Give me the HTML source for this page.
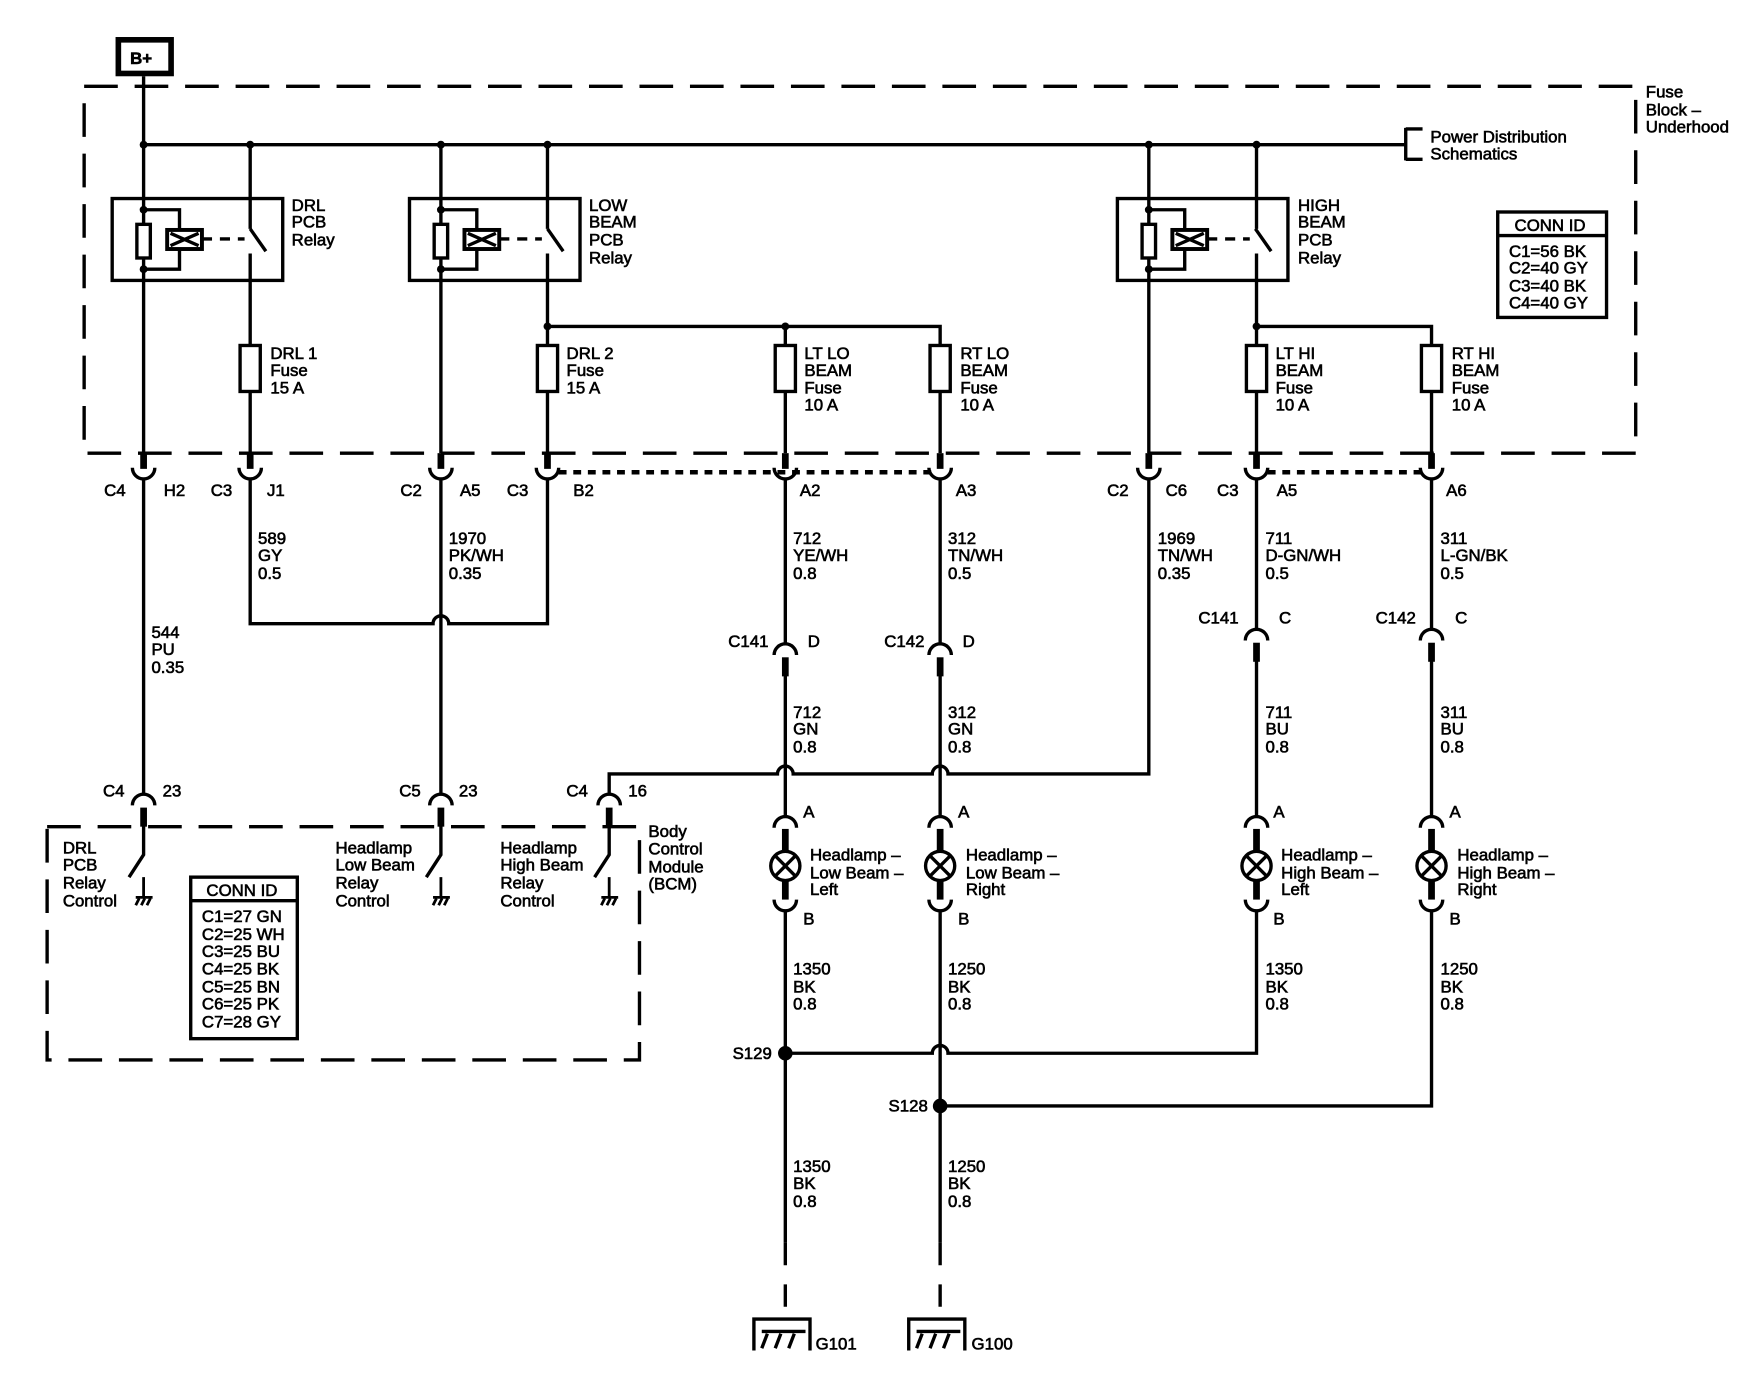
<!DOCTYPE html>
<html><head><meta charset="utf-8"><style>
html,body{margin:0;padding:0;background:#fff;}
svg{display:block;}
text{font-family:"Liberation Sans",Arial,sans-serif;font-size:15px;fill:#000;stroke:#000;stroke-width:0.55;}
</style></head><body>
<svg width="1758" height="1392" viewBox="0 0 1567 1241" preserveAspectRatio="none" xmlns="http://www.w3.org/2000/svg">
<defs>
<g id="cd"><rect x="-3" y="0" width="6" height="14" fill="#000"/><path d="M-10,13 A10,10 0 0 0 10,13" fill="none" stroke="#000" stroke-width="3"/></g>
<g id="cu"><path d="M-10,10 A10,10 0 0 1 10,10" fill="none" stroke="#000" stroke-width="3"/><rect x="-3" y="12" width="6" height="17" fill="#000"/></g>
<g id="lamp"><path d="M-10,10 A10,10 0 0 1 10,10" fill="none" stroke="#000" stroke-width="3"/><rect x="-3" y="11" width="6" height="22" fill="#000"/><circle cx="0" cy="44" r="13" fill="#fff" stroke="#000" stroke-width="3"/><path d="M-9,35 L9,53 M9,35 L-9,53" stroke="#000" stroke-width="3"/><rect x="-3" y="56" width="6" height="18" fill="#000"/><path d="M-10,74 A10,10 0 0 0 10,74" fill="none" stroke="#000" stroke-width="3"/></g>
<g id="relay"><rect x="-28" y="0" width="152" height="73" fill="none" stroke="#000" stroke-width="3"/><path d="M0,10 H32 V63 H0" fill="none" stroke="#000" stroke-width="3"/><rect x="-6" y="23" width="12" height="30" fill="#fff" stroke="#000" stroke-width="3"/><circle cx="0" cy="10" r="3.5"/><circle cx="0" cy="63" r="3.5"/><rect x="21" y="28" width="31" height="17" fill="#fff" stroke="#000" stroke-width="3.5"/><path d="M24,31 L49,42 M49,31 L24,42" stroke="#000" stroke-width="3"/><path d="M52,36 H90" stroke="#000" stroke-width="3" stroke-dasharray="9,7"/><path d="M95,27 L109,47" stroke="#000" stroke-width="3"/></g>
<g id="fuse"><rect x="-9" y="0" width="18" height="41" fill="#fff" stroke="#000" stroke-width="3"/></g>
<g id="gnd"><path d="M-28,28 V0 H22 V28" fill="none" stroke="#000" stroke-width="3"/><path d="M-21,11 H18 M-16,13 L-21,26 M-4,13 L-9,26 M8,13 L3,26" fill="none" stroke="#000" stroke-width="3"/></g>
<g id="sgnd"><path d="M0,0 V18 M-7,18 H8 M-4,19 L-7,25 M1,19 L-2,25 M6,19 L3,25" fill="none" stroke="#000" stroke-width="2.5"/></g>
</defs>
<g fill="none" stroke="#000" stroke-width="3">
<rect x="105.5" y="35.5" width="47" height="30" stroke-width="5"/>
<rect x="75" y="77" width="1383" height="327" stroke-dasharray="30,15"/>
<rect x="42" y="737" width="528" height="208" stroke-dasharray="30,15"/>
<path d="M128,68 V404 M128,129 H1253 M1253,114 V143 M1253,115 H1268 M1253,142 H1268"/>
<path d="M223,129 V204 M223,226 V308 M223,349 V404"/>
<path d="M393,129 V404"/>
<path d="M488,129 V204 M488,226 V308 M488,349 V404"/>
<path d="M1024,129 V404"/>
<path d="M1120,129 V204 M1120,226 V308 M1120,349 V404"/>
<path d="M488,291 H838 V308 M700,291 V308 M700,349 V404 M838,349 V404"/>
<path d="M1120,291 H1276 V308 M1276,349 V404"/>
<path d="M498,421 H830 M1130,421 H1268" stroke-width="4" stroke-dasharray="7,6"/>
<path d="M128,427 V708 M393,427 V708"/>
<path d="M223,427 V556 H386 A7,7 0 0 1 400,556 H488 V427"/>
<path d="M700,427 V574 M838,427 V574 M700,602 V728 M838,602 V728"/>
<path d="M1024,427 V690 H845 A7,7 0 0 0 831,690 H707 A7,7 0 0 0 693,690 H543 V708"/>
<path d="M1120,427 V561 M1276,427 V561 M1120,589 V728 M1276,589 V728"/>
<path d="M700,812 V1108 M838,812 V1108 M1120,812 V939 H845 A7,7 0 0 0 831,939 H700 M1276,812 V986 H838"/>
<path d="M700,1108 V1176 M838,1108 V1176" stroke-dasharray="20,17"/>
<path d="M128,730 V762 L115,782 M393,730 V762 L380,782 M543,730 V762 L530,782"/>
</g>
<circle cx="700" cy="939" r="6.5"/><circle cx="838" cy="986" r="6.5"/>
<circle cx="128" cy="129" r="3.5"/><circle cx="223" cy="129" r="3.5"/><circle cx="393" cy="129" r="3.5"/><circle cx="488" cy="129" r="3.5"/><circle cx="1024" cy="129" r="3.5"/><circle cx="1120" cy="129" r="3.5"/>
<circle cx="488" cy="291" r="3.5"/><circle cx="700" cy="291" r="3.5"/><circle cx="1120" cy="291" r="3.5"/>
<use href="#relay" x="128" y="177"/><use href="#relay" x="393" y="177"/><use href="#relay" x="1024" y="177"/>
<use href="#fuse" x="223" y="308"/><use href="#fuse" x="488" y="308"/><use href="#fuse" x="700" y="308"/><use href="#fuse" x="838" y="308"/><use href="#fuse" x="1120" y="308"/><use href="#fuse" x="1276" y="308"/>
<use href="#cd" x="128" y="404"/><use href="#cd" x="223" y="404"/><use href="#cd" x="393" y="404"/><use href="#cd" x="488" y="404"/><use href="#cd" x="700" y="404"/><use href="#cd" x="838" y="404"/><use href="#cd" x="1024" y="404"/><use href="#cd" x="1120" y="404"/><use href="#cd" x="1276" y="404"/>
<use href="#cu" x="700" y="574"/><use href="#cu" x="838" y="574"/><use href="#cu" x="1120" y="561"/><use href="#cu" x="1276" y="561"/>
<use href="#cu" x="128" y="708"/><use href="#cu" x="393" y="708"/><use href="#cu" x="543" y="708"/>
<use href="#lamp" x="700" y="728"/><use href="#lamp" x="838" y="728"/><use href="#lamp" x="1120" y="728"/><use href="#lamp" x="1276" y="728"/>
<use href="#gnd" x="700" y="1176"/><use href="#gnd" x="838" y="1176"/>
<use href="#sgnd" x="128" y="782"/><use href="#sgnd" x="393" y="782"/><use href="#sgnd" x="543" y="782"/>
<g fill="none" stroke="#000" stroke-width="3">
<rect x="1335" y="189" width="97" height="94"/><path d="M1335,210 H1432"/>
<rect x="170" y="782" width="95" height="144"/><path d="M170,803 H265"/>
</g>
<text x="116" y="57" font-weight="bold">B+</text>
<text x="1467" y="87">Fuse</text><text x="1467" y="103">Block –</text><text x="1467" y="118">Underhood</text>
<text x="1275" y="127">Power Distribution</text><text x="1275" y="142">Schematics</text>
<text x="1350" y="206">CONN ID</text>
<text x="1345" y="229">C1=56 BK</text><text x="1345" y="244">C2=40 GY</text><text x="1345" y="260">C3=40 BK</text><text x="1345" y="275">C4=40 GY</text>
<text x="260" y="188">DRL</text><text x="260" y="203">PCB</text><text x="260" y="219">Relay</text>
<text x="525" y="188">LOW</text><text x="525" y="203">BEAM</text><text x="525" y="219">PCB</text><text x="525" y="235">Relay</text>
<text x="1157" y="188">HIGH</text><text x="1157" y="203">BEAM</text><text x="1157" y="219">PCB</text><text x="1157" y="235">Relay</text>
<text x="241" y="320">DRL 1</text><text x="241" y="335">Fuse</text><text x="241" y="351">15 A</text>
<text x="505" y="320">DRL 2</text><text x="505" y="335">Fuse</text><text x="505" y="351">15 A</text>
<text x="717" y="320">LT LO</text><text x="717" y="335">BEAM</text><text x="717" y="351">Fuse</text><text x="717" y="366">10 A</text>
<text x="856" y="320">RT LO</text><text x="856" y="335">BEAM</text><text x="856" y="351">Fuse</text><text x="856" y="366">10 A</text>
<text x="1137" y="320">LT HI</text><text x="1137" y="335">BEAM</text><text x="1137" y="351">Fuse</text><text x="1137" y="366">10 A</text>
<text x="1294" y="320">RT HI</text><text x="1294" y="335">BEAM</text><text x="1294" y="351">Fuse</text><text x="1294" y="366">10 A</text>
<g text-anchor="end"><text x="112" y="442">C4</text><text x="207" y="442">C3</text><text x="376" y="442">C2</text><text x="471" y="442">C3</text><text x="1006" y="442">C2</text><text x="1104" y="442">C3</text>
<text x="685" y="577">C141</text><text x="824" y="577">C142</text><text x="1104" y="556">C141</text><text x="1262" y="556">C142</text>
<text x="111" y="710">C4</text><text x="375" y="710">C5</text><text x="524" y="710">C4</text>
<text x="688" y="944">S129</text><text x="827" y="991">S128</text></g>
<text x="146" y="442">H2</text><text x="238" y="442">J1</text><text x="410" y="442">A5</text><text x="511" y="442">B2</text><text x="713" y="442">A2</text><text x="852" y="442">A3</text><text x="1039" y="442">C6</text><text x="1138" y="442">A5</text><text x="1289" y="442">A6</text>
<text x="230" y="485">589</text><text x="230" y="500">GY</text><text x="230" y="516">0.5</text>
<text x="400" y="485">1970</text><text x="400" y="500">PK/WH</text><text x="400" y="516">0.35</text>
<text x="707" y="485">712</text><text x="707" y="500">YE/WH</text><text x="707" y="516">0.8</text>
<text x="845" y="485">312</text><text x="845" y="500">TN/WH</text><text x="845" y="516">0.5</text>
<text x="1032" y="485">1969</text><text x="1032" y="500">TN/WH</text><text x="1032" y="516">0.35</text>
<text x="1128" y="485">711</text><text x="1128" y="500">D-GN/WH</text><text x="1128" y="516">0.5</text>
<text x="1284" y="485">311</text><text x="1284" y="500">L-GN/BK</text><text x="1284" y="516">0.5</text>
<text x="135" y="569">544</text><text x="135" y="584">PU</text><text x="135" y="600">0.35</text>
<text x="720" y="577">D</text><text x="858" y="577">D</text><text x="1140" y="556">C</text><text x="1297" y="556">C</text>
<text x="707" y="640">712</text><text x="707" y="655">GN</text><text x="707" y="671">0.8</text>
<text x="845" y="640">312</text><text x="845" y="655">GN</text><text x="845" y="671">0.8</text>
<text x="1128" y="640">711</text><text x="1128" y="655">BU</text><text x="1128" y="671">0.8</text>
<text x="1284" y="640">311</text><text x="1284" y="655">BU</text><text x="1284" y="671">0.8</text>
<text x="145" y="710">23</text><text x="409" y="710">23</text><text x="560" y="710">16</text>
<text x="716" y="729">A</text><text x="854" y="729">A</text><text x="1135" y="729">A</text><text x="1292" y="729">A</text>
<text x="716" y="824">B</text><text x="854" y="824">B</text><text x="1135" y="824">B</text><text x="1292" y="824">B</text>
<text x="722" y="767">Headlamp –</text><text x="722" y="783">Low Beam –</text><text x="722" y="798">Left</text>
<text x="861" y="767">Headlamp –</text><text x="861" y="783">Low Beam –</text><text x="861" y="798">Right</text>
<text x="1142" y="767">Headlamp –</text><text x="1142" y="783">High Beam –</text><text x="1142" y="798">Left</text>
<text x="1299" y="767">Headlamp –</text><text x="1299" y="783">High Beam –</text><text x="1299" y="798">Right</text>
<text x="707" y="869">1350</text><text x="707" y="885">BK</text><text x="707" y="900">0.8</text>
<text x="845" y="869">1250</text><text x="845" y="885">BK</text><text x="845" y="900">0.8</text>
<text x="1128" y="869">1350</text><text x="1128" y="885">BK</text><text x="1128" y="900">0.8</text>
<text x="1284" y="869">1250</text><text x="1284" y="885">BK</text><text x="1284" y="900">0.8</text>
<text x="707" y="1045">1350</text><text x="707" y="1060">BK</text><text x="707" y="1076">0.8</text>
<text x="845" y="1045">1250</text><text x="845" y="1060">BK</text><text x="845" y="1076">0.8</text>
<text x="727" y="1203">G101</text><text x="866" y="1203">G100</text>
<text x="56" y="761">DRL</text><text x="56" y="776">PCB</text><text x="56" y="792">Relay</text><text x="56" y="808">Control</text>
<text x="299" y="761">Headlamp</text><text x="299" y="776">Low Beam</text><text x="299" y="792">Relay</text><text x="299" y="808">Control</text>
<text x="446" y="761">Headlamp</text><text x="446" y="776">High Beam</text><text x="446" y="792">Relay</text><text x="446" y="808">Control</text>
<text x="578" y="746">Body</text><text x="578" y="762">Control</text><text x="578" y="778">Module</text><text x="578" y="793">(BCM)</text>
<text x="184" y="799">CONN ID</text>
<text x="180" y="822">C1=27 GN</text><text x="180" y="838">C2=25 WH</text><text x="180" y="853">C3=25 BU</text><text x="180" y="869">C4=25 BK</text><text x="180" y="885">C5=25 BN</text><text x="180" y="900">C6=25 PK</text><text x="180" y="916">C7=28 GY</text>
</svg>
</body></html>
